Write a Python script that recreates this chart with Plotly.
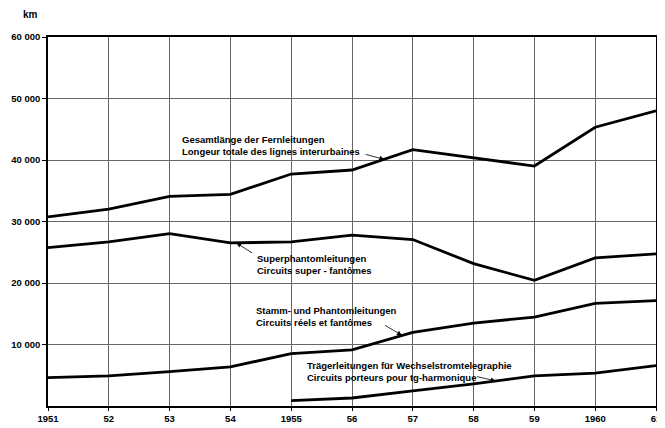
import plotly.graph_objects as go

years = [1951, 1952, 1953, 1954, 1955, 1956, 1957, 1958, 1959, 1960, 1961]
year_labels = ["1951", "52", "53", "54", "1955", "56", "57", "58", "59", "1960", "61"]

gesamt = [30760, 32010, 34080, 34400, 37720, 38370, 41680, 40380, 39020, 45330, 47990]
superphantom = [25760, 26680, 28040, 26520, 26680, 27770, 27070, 23150, 20430, 24080, 24730]
stamm = [4620, 4890, 5600, 6360, 8530, 9130, 11960, 13480, 14460, 16680, 17120]
traeger_years = [1955, 1956, 1957, 1958, 1959, 1960, 1961]
traeger = [870, 1300, 2450, 3590, 4890, 5330, 6580]

y_ticks = [10000, 20000, 30000, 40000, 50000, 60000]
y_labels = ["10 000", "20 000", "30 000", "40 000", "50 000", "60 000"]

FONT = "Liberation Sans Narrow, Liberation Sans, Arial, sans-serif"

fig = go.Figure()
line_style = dict(color="black", width=2.8)
for xs, ys in [(years, gesamt), (years, superphantom), (years, stamm), (traeger_years, traeger)]:
    fig.add_trace(go.Scatter(x=xs, y=ys, mode="lines", line=line_style,
                             showlegend=False, hoverinfo="skip"))

labels = [
    (1953.17, 42400, "Gesamtlänge der Fernleitungen<br>Longeur totale des lignes interurbaines",
     (1956.2, 40980, 1956.53, 40100)),
    (1954.41, 22950, "Superphantomleitungen<br>Circuits super - fantômes",
     (1954.38, 24750, 1954.1, 26500)),
    (1954.39, 14560, "Stamm- und Phantomleitungen<br>Circuits réels et fantômes",
     (1956.52, 13260, 1956.82, 11500)),
    (1955.23, 5650, "Trägerleitungen für Wechselstromtelegraphie<br>Circuits porteurs pour tg-harmonique",
     (1958.03, 4840, 1958.36, 4080)),
]
for x, y, txt, (ax0, ay0, ax1, ay1) in labels:
    fig.add_annotation(x=x, y=y, xref="x", yref="y", text=txt, showarrow=False,
                       xanchor="left", yanchor="middle", align="left",
                       font=dict(family=FONT, size=9.5, color="black", weight="bold"))
    fig.add_annotation(x=ax1, y=ay1, ax=ax0, ay=ay0, xref="x", yref="y",
                       axref="x", ayref="y", text="", showarrow=True,
                       arrowhead=2, arrowsize=1.2, arrowwidth=0.8, arrowcolor="black")

fig.add_annotation(x=-0.045, y=1.06, xref="paper", yref="paper", text="km",
                   showarrow=False, xanchor="left", yanchor="middle",
                   font=dict(family=FONT, size=10, color="black", weight="bold"))

tick_font = dict(family=FONT, size=9.5, color="black", weight="bold")

# The page body adds an 8 px offset; size the figure to compensate.
fig.update_layout(
    width=657, height=420,
    margin=dict(l=38, r=3, t=29, b=22),
    paper_bgcolor="white", plot_bgcolor="white",
    font=dict(family=FONT, size=10, color="black", weight="bold"),
    xaxis=dict(range=[1951, 1961], tickvals=years, ticktext=year_labels,
               showgrid=True, gridcolor="#666666", gridwidth=0.8,
               showline=True, linecolor="black", linewidth=1.5, mirror=True,
               ticks="outside", ticklen=3, tickcolor="black",
               ticklabeloverflow="allow",
               tickfont=tick_font, zeroline=False, fixedrange=True),
    yaxis=dict(range=[0, 60000], tickvals=y_ticks, ticktext=y_labels,
               showgrid=True, gridcolor="#666666", gridwidth=0.8,
               showline=True, linecolor="black", linewidth=1.5, mirror=True,
               ticks="outside", ticklen=4, tickcolor="black",
               tickfont=tick_font, zeroline=False, fixedrange=True),
)

fig.write_html("out.html")
